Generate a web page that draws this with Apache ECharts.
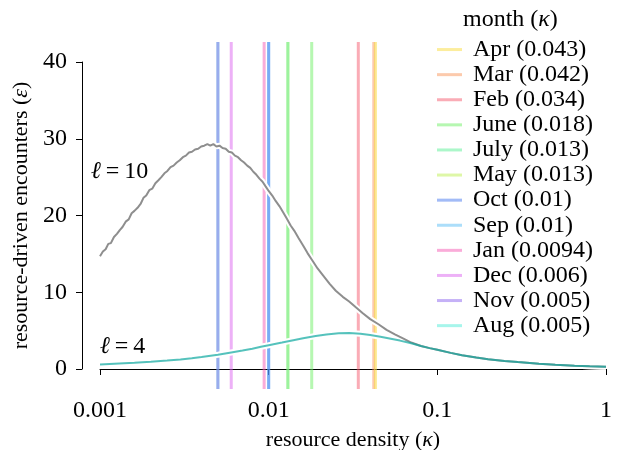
<!DOCTYPE html>
<html>
<head>
<meta charset="utf-8">
<title>resource-driven encounters</title>
<script src="https://cdn.jsdelivr.net/npm/echarts@6/dist/echarts.min.js"></script>
<style>
    html, body { margin: 0; padding: 0; background: #fff; }
    #chart { width: 620px; height: 450px; }
</style>
</head>
<body>
<div id="chart"></div>
<script>
// months, in legend order, with their resource density
var monthNames = ['Apr', 'Mar', 'Feb', 'June', 'July', 'May', 'Oct', 'Sep', 'Jan', 'Dec', 'Nov', 'Aug'];
var monthKappa = [0.043, 0.042, 0.034, 0.018, 0.013, 0.013, 0.01, 0.01, 0.0094, 0.006, 0.005, 0.005];
var monthColors = ['rgba(250,220,60,0.5)', 'rgba(250,150,90,0.5)', 'rgba(245,90,110,0.5)', 'rgba(110,240,100,0.5)',
    'rgba(90,240,150,0.5)', 'rgba(190,240,80,0.5)', 'rgba(70,120,240,0.5)', 'rgba(90,190,245,0.5)',
    'rgba(245,90,180,0.5)', 'rgba(220,100,240,0.5)', 'rgba(140,100,240,0.5)', 'rgba(80,235,215,0.5)'];

// tick labels
var xTickLabels = ['0.001', '0.01', '0.1', '1'];
var yTicks = [0, 10, 20, 30, 40];

// l = 10 curve
var kappa10 = [0.00100, 0.00104, 0.00108, 0.00112, 0.00116, 0.00121, 0.00126, 0.00131, 0.00136, 0.00142,
    0.00148, 0.00154, 0.00160, 0.00167, 0.00174, 0.00181, 0.00188, 0.00196, 0.00204, 0.00213,
    0.00222, 0.00231, 0.00241, 0.00251, 0.00262, 0.00273, 0.00285, 0.00297, 0.00310, 0.00323,
    0.00337, 0.00351, 0.00366, 0.00382, 0.00398, 0.00415, 0.00433, 0.00451, 0.00470, 0.00490,
    0.00511, 0.00533, 0.00556, 0.00580, 0.00605, 0.00631, 0.00658, 0.00686, 0.00715, 0.00746,
    0.00778, 0.00811, 0.00846, 0.00882, 0.00920, 0.00959, 0.0100, 0.0105, 0.0110, 0.0116,
    0.0122, 0.0128, 0.0135, 0.0142, 0.0150, 0.0160, 0.0170, 0.0182, 0.0195, 0.0210,
    0.0230, 0.0250, 0.0275, 0.0300, 0.0330, 0.0360, 0.0400, 0.0450, 0.0500, 0.0560,
    0.0630, 0.0700, 0.0800, 0.0900, 0.100, 0.120, 0.140, 0.170, 0.200, 0.250,
    0.300, 0.400, 0.500, 0.650, 0.800, 1.000];
var enc10 = [14.7, 15.3, 15.6, 16.3, 16.4, 17.2, 17.6, 18.1, 18.5, 19.2,
    19.5, 20.3, 20.6, 21.0, 21.5, 22.3, 22.6, 23.3, 23.5, 24.2,
    24.6, 25.0, 25.5, 25.8, 26.3, 26.5, 26.9, 27.2, 27.6, 27.8,
    28.2, 28.3, 28.6, 28.7, 29.0, 29.1, 29.3, 29.1, 29.3, 29.0,
    29.1, 28.8, 28.7, 28.3, 28.2, 27.8, 27.6, 27.2, 26.9, 26.5,
    26.2, 25.7, 25.3, 24.8, 24.4, 23.8, 23.2, 22.6, 21.9, 21.2,
    20.4, 19.6, 18.7, 18.0, 17.1, 16.1, 15.1, 14.1, 13.1, 12.2,
    11.1, 10.2, 9.4, 8.8, 8.0, 7.3, 6.5, 5.8, 5.1, 4.5,
    3.95, 3.45, 3.0, 2.72, 2.5, 2.1, 1.8, 1.5, 1.28, 1.05,
    0.9, 0.68, 0.55, 0.43, 0.35, 0.3];

// l = 4 curve
var kappa4 = [0.0010, 0.0013, 0.0016, 0.0020, 0.0025, 0.0030, 0.0035, 0.0040, 0.0050, 0.0060,
    0.0070, 0.0080, 0.0090, 0.0100, 0.0120, 0.0140, 0.0160, 0.0190, 0.0220, 0.0260,
    0.0300, 0.0350, 0.0400, 0.0460, 0.0530, 0.0600, 0.0700, 0.0800, 0.0900, 0.100,
    0.120, 0.140, 0.170, 0.200, 0.250, 0.300, 0.400, 0.500, 0.650, 0.800, 1.000];
var enc4 = [0.6, 0.72, 0.82, 0.95, 1.1, 1.25, 1.4, 1.55, 1.85, 2.15,
    2.4, 2.65, 2.9, 3.1, 3.45, 3.75, 4.0, 4.3, 4.5, 4.65,
    4.68, 4.6, 4.42, 4.2, 3.95, 3.7, 3.35, 3.0, 2.72, 2.5,
    2.1, 1.8, 1.5, 1.28, 1.05, 0.9, 0.68, 0.55, 0.43, 0.35, 0.3];

var serifFont = '"Liberation Serif", "DejaVu Serif", serif';

var chartManager = {
    initPage: function () {
        var myChart = echarts.init(document.getElementById('chart'), null, { renderer: 'canvas' });
        myChart.setOption(chartManager.buildOption());
    },
    //pair x and y arrays
    zipData: function (xs, ys) {
        var out = [];
        for (var i = 0; i < xs.length; i++) {
            out.push([xs[i], ys[i]]);
        }
        return out;
    },
    //italic / normal rich styles
    richText: function (size) {
        return { i: { fontFamily: serifFont, fontSize: size, fontStyle: 'italic', color: '#000' },
            n: { fontFamily: serifFont, fontSize: size, color: '#000' } };
    },
    buildSeries: function () {
        var series = [];
        //month lines, drawn last-to-first so the first month sits on top
        for (var i = monthNames.length - 1; i >= 0; i--) {
            series.push({
                name: monthNames[i] + ' (' + monthKappa[i] + ')',
                type: 'line',
                clip: false,
                symbol: 'none',
                silent: true,
                data: [[monthKappa[i], -2.6], [monthKappa[i], 42.6]],
                itemStyle: { color: monthColors[i] },
                lineStyle: { color: monthColors[i], width: 3 }
            });
        }
        //white halos under the curves
        series.push({ type: 'line', symbol: 'none', silent: true, data: chartManager.zipData(kappa10, enc10),
            lineStyle: { color: '#fff', width: 6 } });
        series.push({ type: 'line', symbol: 'none', silent: true, data: chartManager.zipData(kappa4, enc4),
            lineStyle: { color: '#fff', width: 6 } });
        series.push({ name: 'l10', type: 'line', symbol: 'none', data: chartManager.zipData(kappa10, enc10),
            lineStyle: { color: '#8e8e8e', width: 2 } });
        series.push({ name: 'l4', type: 'line', symbol: 'none', data: chartManager.zipData(kappa4, enc4),
            lineStyle: { color: 'rgba(20,170,162,0.72)', width: 2 } });
        return series;
    },
    buildOption: function () {
        var legendData = [];
        for (var i = 0; i < monthNames.length; i++) {
            legendData.push(monthNames[i] + ' (' + monthKappa[i] + ')');
        }
        return {
            backgroundColor: '#fff',
            animation: false,
            textStyle: { fontFamily: serifFont },
            title: {
                text: 'month ({i|κ})',
                left: 463,
                top: 8,
                padding: 0,
                textStyle: {
                    fontFamily: serifFont, fontSize: 24, fontWeight: 'normal', color: '#000',
                    rich: chartManager.richText(24)
                }
            },
            legend: {
                data: legendData,
                orient: 'vertical',
                left: 437,
                top: 37,
                padding: 0,
                icon: 'rect',
                itemWidth: 25,
                itemHeight: 3,
                itemGap: 0,
                formatter: function (name) { return ' ' + name; },
                textStyle: { fontFamily: serifFont, fontSize: 24, color: '#000', lineHeight: 25.1 }
            },
            grid: { left: 100, right: 14, top: 62, bottom: 81, outerBoundsMode: 'none', containLabel: false },
            xAxis: {
                type: 'log',
                logBase: 10,
                min: 0.001,
                max: 1,
                offset: 20,
                name: 'resource density ({i|κ})',
                nameLocation: 'middle',
                nameGap: 40,
                nameTextStyle: {
                    fontFamily: serifFont, fontSize: 22, color: '#000',
                    rich: chartManager.richText(22)
                },
                axisLine: { lineStyle: { color: '#000', width: 1 } },
                axisTick: { length: 6, lineStyle: { color: '#000' } },
                minorTick: { show: false },
                splitLine: { show: false },
                axisLabel: {
                    margin: 10, fontSize: 24, color: '#000', fontFamily: serifFont,
                    formatter: function (v) {
                        var idx = Math.round(Math.log10(v)) + 3;
                        return xTickLabels[idx] !== undefined ? xTickLabels[idx] : '';
                    }
                }
            },
            yAxis: {
                type: 'value',
                min: yTicks[0],
                max: yTicks[yTicks.length - 1],
                interval: yTicks[1] - yTicks[0],
                offset: 18,
                name: 'resource-driven encounters ({i|ε})',
                nameLocation: 'middle',
                nameGap: 43,
                nameTextStyle: {
                    fontFamily: serifFont, fontSize: 22, color: '#000',
                    rich: chartManager.richText(22)
                },
                axisLine: { show: true, lineStyle: { color: '#000', width: 1 } },
                axisTick: { show: true, length: 6, lineStyle: { color: '#000' } },
                splitLine: { show: false },
                axisLabel: { margin: 15, fontSize: 24, color: '#000', fontFamily: serifFont }
            },
            graphic: [
                { type: 'text', left: 91, top: 160,
                    style: { text: '{i|ℓ}{n|\u2009=\u200910}', rich: chartManager.richText(24), fill: '#000' } },
                { type: 'text', left: 100, top: 335,
                    style: { text: '{i|ℓ}{n|\u2009=\u20094}', rich: chartManager.richText(24), fill: '#000' } }
            ],
            series: chartManager.buildSeries()
        };
    }
};

chartManager.initPage();
</script>
</body>
</html>
